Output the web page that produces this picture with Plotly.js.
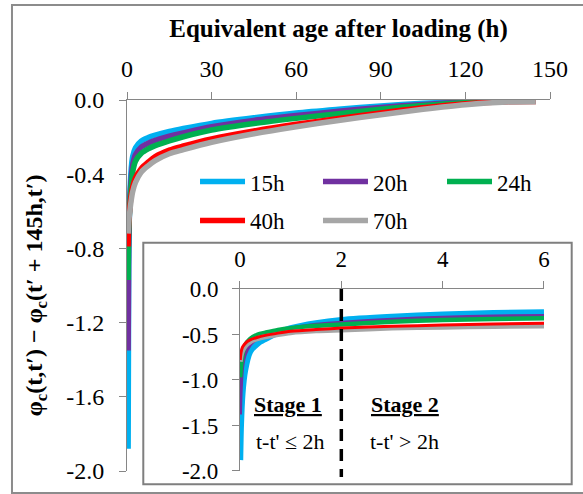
<!DOCTYPE html>
<html><head><meta charset="utf-8">
<script src="https://cdn.plot.ly/plotly-3.0.1.min.js"></script>
<style>html,body{margin:0;padding:0;background:#fff;} #chart{width:583px;height:494px;}</style>
</head><body><div id="chart"></div>
<script>
const seriesNames = ['15h','20h','24h','40h','70h'];
const seriesColors = ['#00B0F0','#7030A0','#00B050','#FF0000','#A6A6A6'];

// Main chart: equivalent age after loading (h)
const mainX  = [0.4, 0.6, 1, 1.5, 2, 3, 5, 7.5, 10, 15, 20, 30, 45, 60, 75, 90, 105, 120, 135, 145];
const main15 = [-1.88, -0.9, -0.52, -0.37, -0.305, -0.258, -0.222, -0.203, -0.19, -0.17, -0.154, -0.126, -0.096, -0.07, -0.05, -0.032, -0.018, -0.008, -0.004, -0.006];
const main20 = [-1.35, -0.8, -0.55, -0.42, -0.35, -0.295, -0.255, -0.233, -0.218, -0.195, -0.177, -0.144, -0.11, -0.084, -0.061, -0.04, -0.024, -0.011, -0.005, -0.006];
const main24 = [-0.97, -0.72, -0.57, -0.46, -0.39, -0.33, -0.288, -0.263, -0.246, -0.22, -0.198, -0.162, -0.127, -0.099, -0.074, -0.05, -0.03, -0.014, -0.006, -0.007];
const main40 = [-0.79, -0.66, -0.58, -0.51, -0.47, -0.42, -0.37, -0.335, -0.305, -0.27, -0.248, -0.21, -0.167, -0.131, -0.1, -0.07, -0.042, -0.02, -0.009, -0.008];
const main70 = [-0.72, -0.66, -0.6, -0.54, -0.495, -0.445, -0.39, -0.355, -0.327, -0.29, -0.268, -0.228, -0.182, -0.144, -0.11, -0.08, -0.05, -0.025, -0.011, -0.009];

// Inset chart: first 6 h
const insetX  = [0.005, 0.02, 0.05, 0.1, 0.2, 0.35, 0.5, 0.75, 1, 1.5, 2, 3, 4, 5, 6];
const inset15 = [-1.88, -1.5, -1.15, -0.9, -0.69, -0.6, -0.55, -0.48, -0.43, -0.375, -0.34, -0.305, -0.28, -0.265, -0.256];
const inset20 = [-1.38, -1.1, -0.85, -0.72, -0.615, -0.54, -0.5, -0.46, -0.43, -0.39, -0.368, -0.335, -0.312, -0.3, -0.293];
const inset24 = [-0.97, -0.85, -0.72, -0.62, -0.55, -0.5, -0.48, -0.45, -0.43, -0.405, -0.39, -0.36, -0.342, -0.33, -0.322];
const inset40 = [-0.78, -0.7, -0.64, -0.6, -0.56, -0.53, -0.51, -0.485, -0.465, -0.445, -0.43, -0.41, -0.397, -0.385, -0.377];
const inset70 = [-0.80, -0.74, -0.68, -0.63, -0.58, -0.545, -0.525, -0.5, -0.48, -0.46, -0.45, -0.43, -0.42, -0.412, -0.407];

const mainXTicks = [0, 30, 60, 90, 120, 150];
const mainYTicks = [0, -0.4, -0.8, -1.2, -1.6, -2.0];
const mainYTickText = ['0.0', '-0.4', '-0.8', '-1.2', '-1.6', '-2.0'];
const insetXTicks = [0, 2, 4, 6];
const insetYTicks = [0, -0.5, -1.0, -1.5, -2.0];
const insetYTickText = ['0.0', '-0.5', '-1.0', '-1.5', '-2.0'];

const mainSeries = [main15, main20, main24, main40, main70];
const insetSeries = [inset15, inset20, inset24, inset40, inset70];
const legendIds = ['legend', 'legend2', 'legend3', 'legend4', 'legend5'];
const insetWidths = [6, 3.5, 4.5, 3, 5];
const insetOrder = [0, 1, 2, 4, 3];

const FONT = '"Liberation Serif", "Times New Roman", serif';
const GRAY = '#868686';

const traces = [];
mainSeries.forEach((ys, i) => {
  traces.push({
    x: mainX, y: ys, type: 'scatter', mode: 'lines', name: seriesNames[i],
    line: {color: seriesColors[i], width: 5.5, shape: 'spline', smoothing: 0.8},
    xaxis: 'x', yaxis: 'y', legend: legendIds[i], showlegend: true
  });
});
insetOrder.forEach(i => {
  traces.push({
    x: insetX, y: insetSeries[i], type: 'scatter', mode: 'lines', name: seriesNames[i],
    line: {color: seriesColors[i], width: insetWidths[i], shape: 'spline', smoothing: 0.8},
    xaxis: 'x2', yaxis: 'y2', showlegend: false
  });
});

const axisCommon = {
  ticks: 'outside', ticklen: 7, tickwidth: 1, tickcolor: GRAY,
  showline: true, linecolor: GRAY, linewidth: 1,
  showgrid: false, zeroline: false, fixedrange: true,
  tickfont: {family: FONT, size: 23, color: '#000'}
};

// legend item positions (paper coords), 3 in first row, 2 in second
const legendX = [0.1608, 0.4515, 0.7447, 0.1608, 0.4515];
const legendY = [0.838, 0.838, 0.838, 0.733, 0.733];

const layout = {
  width: 583, height: 494,
  margin: {l: 127, r: 33, t: 100, b: 23, pad: 0},
  paper_bgcolor: '#ffffff', plot_bgcolor: 'rgba(0,0,0,0)',
  font: {family: FONT, size: 23, color: '#000'},
  showlegend: true,
  xaxis: Object.assign({}, axisCommon, {
    domain: [0, 1], range: [0, 150], side: 'top', anchor: 'y',
    tickmode: 'array', tickvals: mainXTicks, ticklabelstandoff: 5,
    tickfont: {family: FONT, size: 24, color: '#000'},
    title: {text: '<b>Equivalent age after loading (h)</b>', font: {family: FONT, size: 25, color: '#000'}, standoff: 11}
  }),
  yaxis: Object.assign({}, axisCommon, {
    domain: [0, 1], range: [-2, 0], anchor: 'x', ticklabelstandoff: 10,
    tickfont: {family: FONT, size: 24, color: '#000'},
    tickmode: 'array', tickvals: mainYTicks, ticktext: mainYTickText
  }),
  xaxis2: Object.assign({}, axisCommon, {
    domain: [0.2671, 0.9858], range: [0, 6], side: 'top', anchor: 'y2', ticklabelstandoff: 5,
    tickmode: 'array', tickvals: insetXTicks
  }),
  yaxis2: Object.assign({}, axisCommon, {
    domain: [0, 0.4906], range: [-2, 0], anchor: 'x2', ticklabelstandoff: 9,
    tickmode: 'array', tickvals: insetYTicks, ticktext: insetYTickText
  }),
  shapes: [
    {type: 'rect', xref: 'paper', yref: 'paper', x0: -0.2719, x1: 1.12, y0: -0.0593, y1: 1.256,
     line: {color: '#8c8c8c', width: 2}, fillcolor: 'rgba(0,0,0,0)', layer: 'above'},
    {type: 'rect', xref: 'paper', yref: 'paper', x0: 0.0385, x1: 1.0513, y0: -0.0358, y1: 0.6154,
     line: {color: '#7f7f7f', width: 2}, fillcolor: 'rgba(0,0,0,0)', layer: 'above'},
    {type: 'line', xref: 'x2', yref: 'paper', x0: 2, x1: 2, y0: 0.4906, y1: -0.0162,
     line: {color: '#000', width: 3.5, dash: '12px,8px'}, layer: 'above'}
  ],
  annotations: [
    {xref: 'paper', yref: 'paper', x: -0.2150, y: 0.474, textangle: -90, showarrow: false,
     xanchor: 'center', yanchor: 'middle',
     text: '<b>φ<sub>c</sub>(t,t′) − φ<sub>c</sub>(t′ + 145h,t′)</b>',
     font: {family: FONT, size: 24, color: '#000'}},
    {xref: 'x2', yref: 'y2', x: 0.947, y: -1.267, showarrow: false, xanchor: 'center', yanchor: 'middle',
     text: '<b><u>Stage 1</u></b>', font: {family: FONT, size: 22, color: '#000'}},
    {xref: 'x2', yref: 'y2', x: 0.997, y: -1.678, showarrow: false, xanchor: 'center', yanchor: 'middle',
     text: "t-t' ≤ 2h", font: {family: FONT, size: 22, color: '#000'}},
    {xref: 'x2', yref: 'y2', x: 3.256, y: -1.267, showarrow: false, xanchor: 'center', yanchor: 'middle',
     text: '<b><u>Stage 2</u></b>', font: {family: FONT, size: 22, color: '#000'}},
    {xref: 'x2', yref: 'y2', x: 3.256, y: -1.678, showarrow: false, xanchor: 'center', yanchor: 'middle',
     text: "t-t' &gt; 2h", font: {family: FONT, size: 22, color: '#000'}}
  ]
};
legendIds.forEach((id, i) => {
  layout[id] = {
    orientation: 'h', xanchor: 'left', yanchor: 'top', x: legendX[i], y: legendY[i],
    itemwidth: 45, bgcolor: 'rgba(0,0,0,0)', borderwidth: 0,
    font: {family: FONT, size: 23, color: '#000'}
  };
});

Plotly.newPlot('chart', traces, layout, {displayModeBar: false, staticPlot: true});
</script>
</body></html>
